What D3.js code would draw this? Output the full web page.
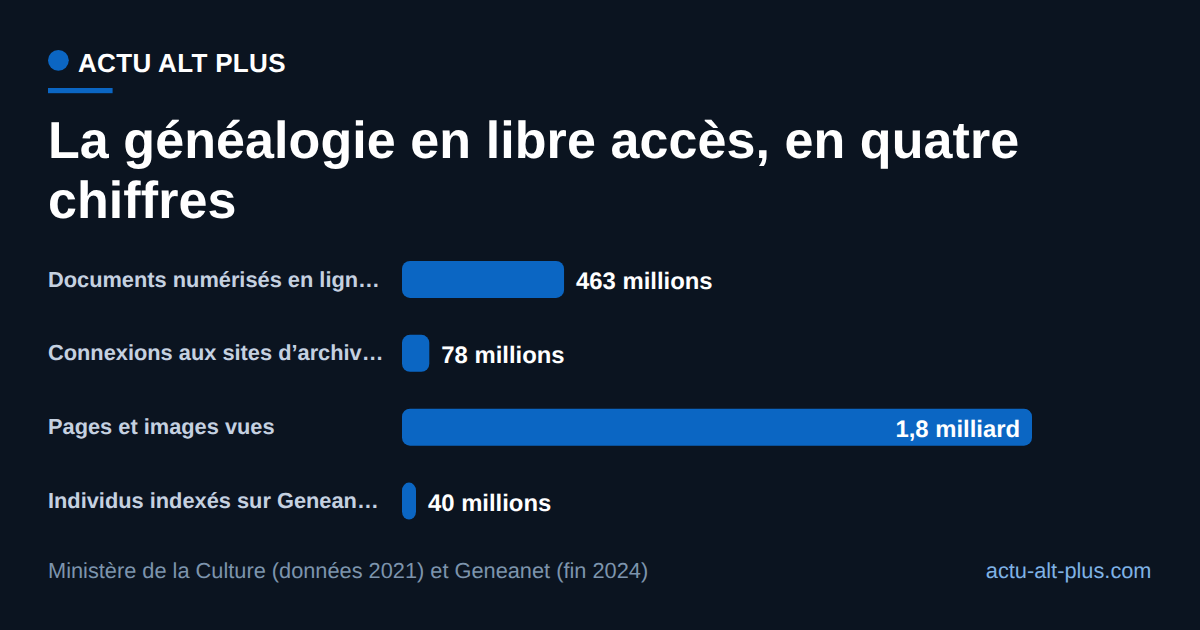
<!DOCTYPE html>
<html lang="fr">
<head>
<meta charset="utf-8">
<script src="https://cdn.jsdelivr.net/npm/d3@7"></script>
<style>
  html, body { margin: 0; padding: 0; background: #0b1420; }
  svg { display: block; font-family: "Liberation Sans", Arial, sans-serif; text-rendering: geometricPrecision; }
</style>
</head>
<body>
<svg id="chart" width="1200" height="630"></svg>
<script>
// Data
const categories = [
    'Documents numérisés en lign…',
    'Connexions aux sites d’archiv…',
    'Pages et images vues',
    'Individus indexés sur Genean…'
];
const values = [463, 78, 1800, 40];
const valueLabels = ['463 millions', '78 millions', '1,8 milliard', '40 millions'];
const titleLines = ['La généalogie en libre accès, en quatre', 'chiffres'];

const blue = '#0b66c3';

const svg = d3.select('#chart');

svg.append('rect').attr('width', 1200).attr('height', 630).attr('fill', '#0b1420');

// En-tête
svg.append('circle').attr('cx', 58.4).attr('cy', 60.3).attr('r', 10.4).attr('fill', blue);
svg.append('text').attr('x', 78).attr('y', 72)
    .attr('font-size', 26).attr('font-weight', 700).attr('letter-spacing', 0.32)
    .attr('fill', '#fff').text('ACTU ALT PLUS');
svg.append('rect').attr('x', 48).attr('y', 88).attr('width', 64.6).attr('height', 5.2).attr('fill', blue);

svg.selectAll('.title').data(titleLines).enter().append('text')
    .attr('class', 'title')
    .attr('x', 48)
    .attr('y', (d, i) => 158 + i * 60)
    .attr('font-size', 52).attr('font-weight', 700).attr('letter-spacing', 0.08)
    .attr('fill', '#fff')
    .text(d => d);

// Echelles
const x = d3.scaleLinear().domain([0, 1800]).range([402, 1032]);
const y = d3.scaleBand().domain(categories).range([261, 519.5]).paddingInner(0.5).paddingOuter(0);

const rows = svg.selectAll('.row').data(categories).enter().append('g').attr('class', 'row');

rows.append('text')
    .attr('x', 48)
    .attr('y', d => y(d) + 25.5)
    .attr('font-size', 21.8).attr('font-weight', 700)
    .attr('fill', '#c5d1e0')
    .text(d => d);

rows.append('rect')
    .attr('x', x(0))
    .attr('y', d => y(d))
    .attr('width', (d, i) => x(values[i]) - x(0))
    .attr('height', y.bandwidth())
    .attr('rx', 8)
    .attr('fill', blue);

// La valeur passe dans la barre quand il n'y a plus de place
rows.append('text')
    .attr('x', (d, i) => values[i] > 1000 ? x(values[i]) - 12 : x(values[i]) + 12)
    .attr('y', d => y(d) + 28)
    .attr('text-anchor', (d, i) => values[i] > 1000 ? 'end' : 'start')
    .attr('font-size', 23.85).attr('font-weight', 700)
    .attr('fill', '#fff')
    .text((d, i) => valueLabels[i]);

// Pied de page
svg.append('text').attr('x', 48).attr('y', 577.5)
    .attr('font-size', 21.78).attr('fill', '#7d94ad')
    .text('Ministère de la Culture (données 2021) et Geneanet (fin 2024)');
svg.append('text').attr('x', 1151.5).attr('y', 577.5).attr('text-anchor', 'end')
    .attr('font-size', 21.78).attr('fill', '#7fb2e5')
    .text('actu-alt-plus.com');
</script>
</body>
</html>
